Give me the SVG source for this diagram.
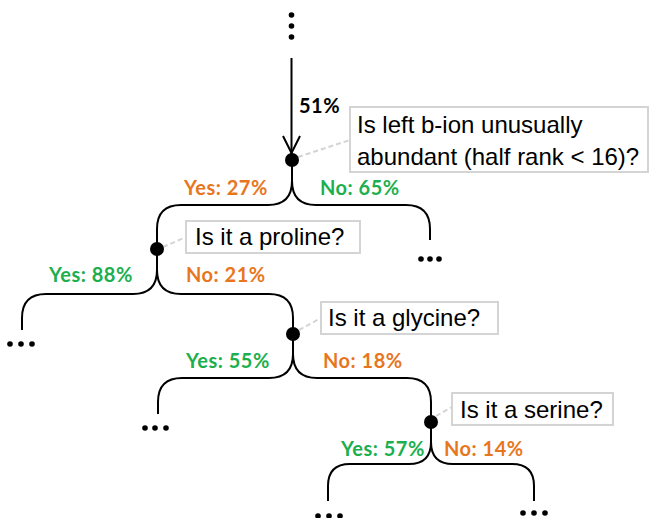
<svg xmlns="http://www.w3.org/2000/svg" width="650" height="518" viewBox="0 0 650 518">
<style>
.br{fill:none;stroke:#000;stroke-width:2}
.ld{fill:none;stroke:#d4d4d4;stroke-width:2;stroke-dasharray:5 3}
.bx{fill:#fff;stroke:#d4d4d4;stroke-width:2}
.q{font-family:"Liberation Sans",Arial,sans-serif;font-size:24px;fill:#000}
.lb{font-family:Lato,"Open Sans",sans-serif;font-weight:bold;font-size:20px;letter-spacing:0.5px}
.y{fill:#1daf4e}
.n{fill:#e8761e}
.k{fill:#000}
.nd{fill:#000}
</style>
<g id="connectors">
<line class="br" x1="291.5" y1="58" x2="291.5" y2="155"/>
<polyline class="br" points="283,136 291.5,153 300,136"/>
<path class="br" d="M292,161 V181 Q292,205 268,205 H181 Q157,205 157,229 V249"/>
<path class="br" d="M292,161 V181 Q292,205 316,205 H406 Q430,205 430,229 V240"/>
<path class="br" d="M157,249 V270 Q157,294 133,294 H46 Q22,294 22,318 V330"/>
<path class="br" d="M157,249 V270 Q157,294 181,294 H269 Q293,294 293,318 V334"/>
<path class="br" d="M293,334 V354 Q293,378 269,378 H182 Q158,378 158,402 V414"/>
<path class="br" d="M293,334 V354 Q293,378 317,378 H407 Q431,378 431,402 V422"/>
<path class="br" d="M431,422 V442 Q431,464 409,464 H350 Q328,464 328,486 V501"/>
<path class="br" d="M431,422 V442 Q431,464 453,464 H512 Q534,464 534,486 V501"/>
<line class="ld" x1="298" y1="157" x2="350" y2="140"/>
<line class="ld" x1="163" y1="247" x2="186" y2="237"/>
<line class="ld" x1="299" y1="330" x2="321" y2="318"/>
<line class="ld" x1="436" y1="416" x2="452" y2="407"/>
<text class="lb k" x="299" y="113">51%</text>
<text class="lb n" x="184" y="195">Yes: 27%</text>
<text class="lb y" x="320" y="195">No: 65%</text>
<text class="lb y" x="49" y="282">Yes: 88%</text>
<text class="lb n" x="186" y="282">No: 21%</text>
<text class="lb y" x="186" y="368">Yes: 55%</text>
<text class="lb n" x="323" y="368">No: 18%</text>
<text class="lb y" x="341" y="456">Yes: 57%</text>
<text class="lb n" x="444" y="456">No: 14%</text>
</g>
<g id="dots-top" class="nd">
<circle cx="291.5" cy="15" r="2.8"/><circle cx="291.5" cy="26" r="2.8"/><circle cx="291.5" cy="37" r="2.8"/>
</g>
<g id="node1"><circle class="nd" cx="292" cy="160" r="7"/>
<rect class="bx" x="350" y="107" width="298" height="65"/>
<text class="q" x="357" y="133">Is left b-ion unusually</text>
<text class="q" x="357" y="165">abundant (half rank &lt; 16)?</text>
</g>
<g id="node2"><circle class="nd" cx="157" cy="249" r="7"/>
<rect class="bx" x="186" y="221" width="174" height="32"/>
<text class="q" x="195" y="245">Is it a proline?</text>
</g>
<g id="node3"><circle class="nd" cx="293" cy="334" r="7"/>
<rect class="bx" x="321" y="302" width="177" height="32"/>
<text class="q" x="328" y="326">Is it a glycine?</text>
</g>
<g id="node4"><circle class="nd" cx="431" cy="422" r="7"/>
<rect class="bx" x="452" y="393" width="161" height="32"/>
<text class="q" x="460" y="418">Is it a serine?</text>
</g>
<g id="leaf-right1" class="nd"><circle cx="421" cy="259" r="2.8"/><circle cx="430" cy="259" r="2.8"/><circle cx="439" cy="259" r="2.8"/></g>
<g id="leaf-left2" class="nd"><circle cx="10" cy="344" r="2.8"/><circle cx="21" cy="344" r="2.8"/><circle cx="32" cy="344" r="2.8"/></g>
<g id="leaf-left3" class="nd"><circle cx="145" cy="428" r="2.8"/><circle cx="155" cy="428" r="2.8"/><circle cx="166" cy="428" r="2.8"/></g>
<g id="leaf-left4" class="nd"><circle cx="318" cy="516" r="2.8"/><circle cx="329" cy="516" r="2.8"/><circle cx="340" cy="516" r="2.8"/></g>
<g id="leaf-right4" class="nd"><circle cx="523" cy="513" r="2.8"/><circle cx="534" cy="513" r="2.8"/><circle cx="545" cy="513" r="2.8"/></g>
</svg>
